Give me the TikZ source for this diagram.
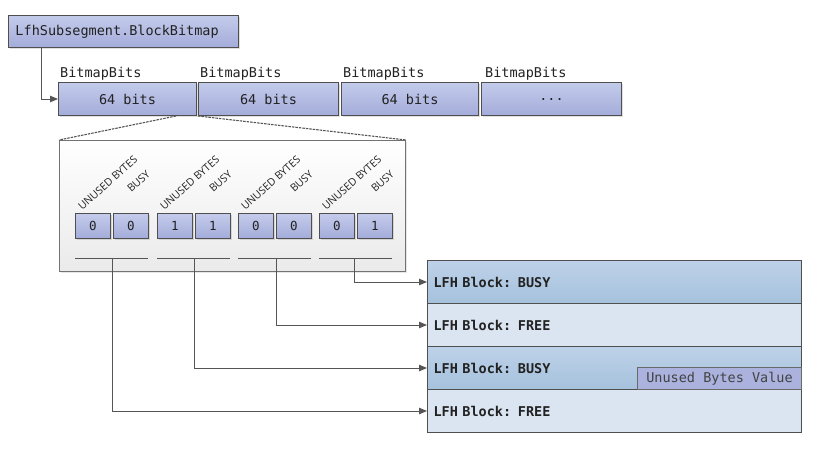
\documentclass[tikz,border=0pt]{standalone}
\usepackage{graphicx}
\usepackage{fontspec}
\newfontfamily\monof{DejaVu Sans Mono}
\newfontfamily\labf{Open Sans}
\usetikzlibrary{arrows.meta,shadows,calc}
\definecolor{edge}{HTML}{4F4F4F}
\definecolor{lavtop}{HTML}{C4CBEB}
\definecolor{lavbot}{HTML}{A3ACDA}
\definecolor{busytop}{HTML}{BDD2E8}
\definecolor{busybot}{HTML}{A6C1DD}
\definecolor{freecol}{HTML}{DAE5F1}
\definecolor{conn}{HTML}{555555}
\definecolor{txt}{HTML}{222222}
\definecolor{frametop}{HTML}{FFFFFF}
\definecolor{framebot}{HTML}{EAEAEA}
\begin{document}
\begin{tikzpicture}[x=1pt,y=-1pt,
  lav/.style={draw=edge, line width=1pt, top color=lavtop, bottom color=lavbot,
    drop shadow={shadow xshift=1.5pt,shadow yshift=-1.5pt,opacity=0.25},
    inner sep=0pt, text=txt, font=\monof\fontsize{13.5}{16}\selectfont},
  bitbox/.style={lav, minimum width=35pt, minimum height=25pt, anchor=north west,
    font=\monof\fontsize{12.5}{14}\selectfont},
  bitlabel/.style={font=\monof\fontsize{13.5}{16}\selectfont, text=txt, inner sep=0pt, anchor=base west},
  rowbox/.style={draw=edge, line width=1pt, anchor=north west, minimum height=43pt,
    text width=362pt, inner xsep=6pt, inner ysep=0pt, align=left, text=txt,
    font=\monof\bfseries\fontsize{13.5}{16}\selectfont},
  busyrow/.style={rowbox, top color=busytop, bottom color=busybot},
  freerow/.style={rowbox, fill=freecol},
  rotlab/.style={font=\labf\fontsize{10.5}{12}\selectfont, text=txt, inner sep=0pt,
    anchor=south west},
  arr/.style={draw=conn, line width=0.9pt, -{Triangle[length=8pt,width=6.5pt]}},
  plain/.style={draw=conn, line width=0.9pt},
  dashline/.style={draw=conn, line width=1.1pt, dash pattern=on 2.5pt off 1pt}
]
\useasboundingbox (0,0) rectangle (829,453);

% top box
\node[lav, anchor=north west, minimum height=32pt, text width=216pt, inner xsep=7pt, align=left] (top) at (8,15) {LfhSubsegment.BlockBitmap};

% bitmap bits row
\node[lav, anchor=north west, minimum width=138pt, minimum height=33pt] (b1) at (58,82) {64 bits};
\node[lav, anchor=north west, minimum width=140pt, minimum height=33pt] (b2) at (198,82) {64 bits};
\node[lav, anchor=north west, minimum width=137pt, minimum height=33pt] (b3) at (341,82) {64 bits};
\node[lav, anchor=north west, minimum width=140pt, minimum height=33pt] (b4) at (481,82) {...};
\node[bitlabel] (l1) at ([xshift=2pt,yshift=5pt]b1.north west) {BitmapBits};
\node[bitlabel] (l2) at ([xshift=2pt,yshift=5pt]b2.north west) {BitmapBits};
\node[bitlabel] (l3) at ([xshift=2pt,yshift=5pt]b3.north west) {BitmapBits};
\node[bitlabel] (l4) at ([xshift=4pt,yshift=5pt]b4.north west) {BitmapBits};

\draw[arr] ([xshift=33pt]top.south west) |- (b1.west);

% zoom frame
\node[draw=edge!80, line width=1pt, top color=frametop, bottom color=framebot,
  drop shadow={shadow xshift=1.5pt,shadow yshift=-1.5pt,opacity=0.2},
  anchor=north west, minimum width=346pt, minimum height=131pt, inner sep=0pt] (fr) at (59,140) {};
\draw[dashline] ([xshift=-21pt]b1.south east) -- (fr.north west);
\draw[dashline] ([xshift=1pt]b1.south east) -- (fr.north east);

% bit groups
\foreach \i/\L/\u/\b in {1/75/0/0, 2/157/1/1, 3/238/0/0, 4/319/0/1}{
  \node[bitbox] (u\i) at (\L,213) {\u};
  \node[bitbox] (s\i) at (\L+38,213) {\b};
  \node[rotlab] (tu\i) at (\L+2,211) {\rotatebox{42}{UNUSED BYTES}};
  \node[rotlab] (ts\i) at (\L+51,193) {\rotatebox{42}{BUSY}};
  \draw[plain] (\L,258) -- (\L+73,258);
}
\coordinate (j1) at (112,258);
\coordinate (j2) at (194,258);
\coordinate (j3) at (276,258);
\coordinate (j4) at (354,258);

% LFH blocks
\node[busyrow] (r1) at (427,260) {LFH Block: BUSY};
\node[freerow] (r2) at (427,303) {LFH Block: FREE};
\node[busyrow] (r3) at (427,346) {LFH Block: BUSY};
\node[freerow] (r4) at (427,389) {LFH Block: FREE};
\node[draw=edge!85, line width=1pt, fill=lavbot!80!lavtop, anchor=south east,
  minimum width=164pt, minimum height=22pt, inner sep=0pt, text=txt!85,
  font=\monof\fontsize{13.5}{16}\selectfont] (ubv) at (r3.south east) {Unused Bytes Value};

% connectors
\draw[arr] (j4) |- (r1.west);
\draw[arr] (j3) |- (r2.west);
\draw[arr] (j2) |- (r3.west);
\draw[arr] (j1) |- (r4.west);
\end{tikzpicture}
\end{document}
